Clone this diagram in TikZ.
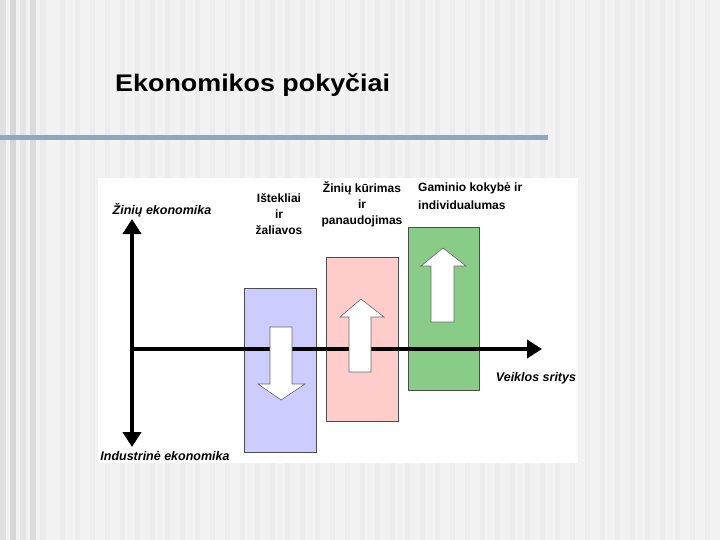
\documentclass[tikz,border=0pt]{standalone}
\usepackage{fontspec}
\setmainfont{Liberation Sans}
\usetikzlibrary{arrows.meta}
\begin{document}
\begin{tikzpicture}[x=1pt,y=-1pt,
  lbl/.style={font=\bfseries\fontsize{12}{16}\selectfont, inner sep=0pt, align=center},
  axlbl/.style={font=\bfseries\itshape\fontsize{12.5}{14}\selectfont, inner sep=0pt},
  axis/.style={line width=4.5pt, -{Triangle[length=15pt,width=18pt]}},
  bar/.style={draw=black!70, line width=0.8pt},
  bigarrow/.style={draw=black!60, fill=white, line width=0.6pt}]
\useasboundingbox (0,0) rectangle (720,540);
\fill[black!5] (0,0) rectangle (720,540);
\foreach \x/\c in {0/12,10/16,20/10,30/14,40/8}{\fill[black!\c] (\x,0) rectangle (\x+6,540);}
\foreach \x in {60,75,...,720}{\fill[black!7] (\x,0) rectangle (\x+5,540);}
\fill[white] (98,178) rectangle (578,463);
\node[font=\bfseries\fontsize{24}{28}\selectfont, anchor=west, inner sep=0pt, xscale=1.12] (title) at (115,85) {Ekonomikos pokyčiai};
\fill[color={rgb,255:red,143;green,168;blue,192}] (0,135) rectangle (548,140);
% bars
\node[bar, fill={rgb,255:red,204;green,204;blue,255}, minimum width=72pt, minimum height=164pt, inner sep=0pt] (b1) at (280,370) {};
\node[bar, fill={rgb,255:red,255;green,204;blue,204}, minimum width=72pt, minimum height=164pt, inner sep=0pt] (b2) at (362,339) {};
\node[bar, fill={rgb,255:red,136;green,204;blue,136}, minimum width=71pt, minimum height=163pt, inner sep=0pt] (b3) at (443.5,308.5) {};
% axes
\coordinate (o) at (132,349);
\coordinate (top) at (132,219);
\coordinate (bot) at (132,447);
\coordinate (right) at (542,349);
\draw[axis] (o) -- (top);
\draw[axis] (o) -- (bot);
\draw[axis] (o) -- (right);
% block arrows
\draw[bigarrow] (270,327) -- (292,327) -- (292,384) -- (305,384) -- (281,400) -- (258,384) -- (270,384) -- cycle;
\draw[bigarrow] (349,372) -- (371,372) -- (371,317) -- (384,317) -- (361,299) -- (340,317) -- (349,317) -- cycle;
\draw[bigarrow] (431,322) -- (454,322) -- (454,266) -- (466,266) -- (443,248) -- (421,266) -- (431,266) -- cycle;
% labels
\node[axlbl] (l1) at (162,210) {Žinių ekonomika};
\node[axlbl] (l2) at (165,456) {Industrinė ekonomika};
\node[axlbl] (l3) at (536,378) {Veiklos sritys};
\node[lbl] (t1) at (279,214) {Ištekliai\\ir\\žaliavos};
\node[lbl] (t2) at (362,204) {Žinių kūrimas\\ir\\panaudojimas};
\node[lbl, align=left, anchor=west, font=\bfseries\fontsize{12}{18}\selectfont] (t3) at (418,196) {Gaminio kokybė ir\\individualumas};
\end{tikzpicture}
\end{document}
